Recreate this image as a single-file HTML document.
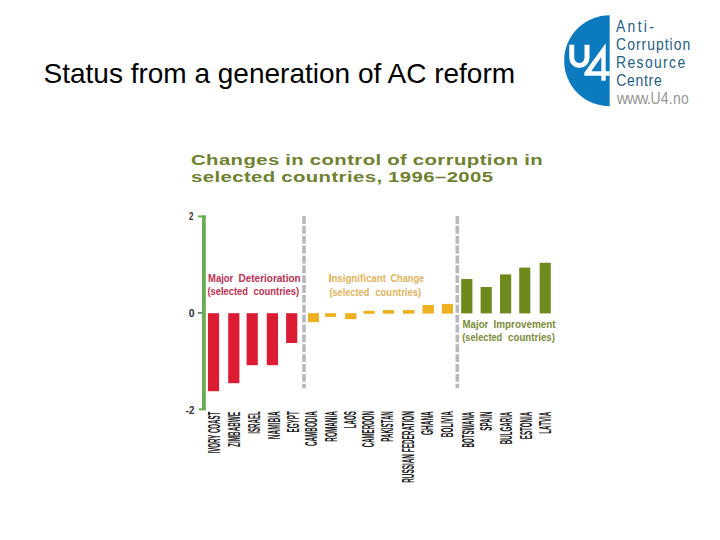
<!DOCTYPE html>
<html><head><meta charset="utf-8">
<style>
html,body{margin:0;padding:0;background:#fff;}
body{width:720px;height:540px;position:relative;overflow:hidden;font-family:"Liberation Sans",sans-serif;}
.abs{position:absolute;white-space:nowrap;}
#title{left:43.5px;top:57.5px;font-size:28px;color:#000;line-height:32px;}
.ct{position:absolute;left:191px;font-size:14.5px;font-weight:bold;color:#6d812e;letter-spacing:0.3px;word-spacing:-0.3px;white-space:nowrap;line-height:16px;transform:scaleX(1.4);transform-origin:0 0;}
</style></head><body>
<div id="title" class="abs">Status from a generation of AC reform</div>

<!-- logo -->
<svg class="abs" style="left:0;top:0" width="720" height="540" viewBox="0 0 720 540">
  <path d="M609.7 15.2 A45.5 45.5 0 0 0 609.7 106.3 Z" fill="#0c7abf"/>
  <path d="M571.75 44.8 V57.8 A7.625 7.625 0 0 0 587 57.8 V44.8" fill="none" stroke="#fff" stroke-width="5"/>
  <path fill="#fff" fill-rule="evenodd" d="M605.7 43.3 L605.7 71.3 L609.7 71.3 L609.7 75.8 L605.7 75.8 L605.7 80.7 L601.3 80.7 L601.3 75.8 L584.3 75.8 L584.3 72.8 Z M601.3 57 L601.3 71.3 L591.3 71.3 Z"/>
</svg>
<svg class="abs" style="left:0;top:0" width="720" height="540" viewBox="0 0 720 540">
<g font-family="Liberation Sans" font-size="16.2">
<text transform="translate(616.0,31.7) scale(0.86,1)" fill="#235e84" textLength="44.1" lengthAdjust="spacing">Anti-</text>
<text transform="translate(616.1,49.9) scale(0.86,1)" fill="#235e84" textLength="86.2" lengthAdjust="spacing">Corruption</text>
<text transform="translate(616.1,68.1) scale(0.86,1)" fill="#235e84" textLength="80.3" lengthAdjust="spacing">Resource</text>
<text transform="translate(616.2,86.4) scale(0.86,1)" fill="#235e84" textLength="52.9" lengthAdjust="spacing">Centre</text>
<text transform="translate(616.7,104.2) scale(0.95,1)" fill="#979797" textLength="36.1" lengthAdjust="spacing">www.</text>
<text transform="translate(650.5,104.2) scale(0.86,1)" fill="#979797" textLength="44.5" lengthAdjust="spacing">U4.no</text>
</g></svg>

<!-- chart title -->
<div class="ct" style="top:152px">Changes in control of corruption in</div>
<div class="ct" style="top:169px">selected countries, 1996–2005</div>

<svg class="abs" style="left:0;top:0" width="720" height="540" viewBox="0 0 720 540">
  <!-- y axis -->
  <rect x="202" y="215.5" width="3.8" height="194.7" fill="#6aad4f"/>
  <rect x="198" y="215.5" width="7.8" height="2" fill="#6aad4f"/>
  <rect x="198.9" y="408.3" width="6.9" height="2" fill="#6aad4f"/>
  <rect x="197.8" y="312.2" width="4.4" height="1.5" fill="#556650"/>
  <!-- dashed separators -->
  <line x1="304" y1="216" x2="304" y2="388.3" stroke="#b8b8bd" stroke-width="3.6" stroke-dasharray="7.9 1.97"/>
  <line x1="457.3" y1="216" x2="457.3" y2="388.3" stroke="#b8b8bd" stroke-width="3.6" stroke-dasharray="7.9 1.97"/>
  <!-- red bars -->
  <g fill="#dc1c32">
    <rect x="207.9" y="313.2" width="11.2" height="78"/>
    <rect x="228.2" y="313.2" width="11.2" height="70"/>
    <rect x="246.6" y="313.2" width="11.2" height="52"/>
    <rect x="266.8" y="313.2" width="11.2" height="52"/>
    <rect x="286.1" y="313.2" width="11.2" height="29.8"/>
  </g>
  <!-- yellow bars -->
  <g fill="#efb020">
    <rect x="308" y="313.2" width="11" height="9"/>
    <rect x="325" y="313.2" width="11" height="3.7"/>
    <rect x="345.2" y="313.2" width="11.2" height="6"/>
    <rect x="363.5" y="310.8" width="11.2" height="3"/>
    <rect x="382.9" y="310.1" width="11.2" height="3.6"/>
    <rect x="403" y="310.1" width="11.4" height="3.6"/>
    <rect x="422.5" y="305" width="11.4" height="8.6"/>
    <rect x="441.9" y="303.9" width="11.1" height="9.7"/>
  </g>
  <!-- green bars -->
  <g fill="#6f8a1c">
    <rect x="461.2" y="279" width="11.2" height="34.4"/>
    <rect x="480.6" y="287" width="11.2" height="26.4"/>
    <rect x="500" y="274.4" width="11.2" height="39"/>
    <rect x="519.2" y="267.6" width="11.1" height="45.8"/>
    <rect x="539.7" y="262.8" width="11.1" height="50.6"/>
  </g>
</svg>
<!-- y labels -->
<svg class="abs" style="left:0;top:0" width="720" height="540" viewBox="0 0 720 540">
<g font-family="Liberation Sans" font-weight="bold" font-size="10.2" fill="#2e2e2e">
<text x="189" y="220" textLength="4.4" lengthAdjust="spacingAndGlyphs">2</text>
<text x="188.7" y="316.7" textLength="5.8" lengthAdjust="spacingAndGlyphs">0</text>
<text x="185.7" y="413.5" textLength="8.6" lengthAdjust="spacingAndGlyphs">-2</text>
</g></svg>

<!-- annotations -->
<svg class="abs" style="left:0;top:0" width="720" height="540" viewBox="0 0 720 540">
<g font-family="Liberation Sans" font-weight="bold" font-size="10">
<text x="208.0" y="281.7" fill="#c02f52" textLength="25.3" lengthAdjust="spacingAndGlyphs">Major</text>
<text x="238.5" y="281.7" fill="#c02f52" textLength="62.1" lengthAdjust="spacingAndGlyphs">Deterioration</text>
<text x="207.5" y="295.4" fill="#c02f52" textLength="40.4" lengthAdjust="spacingAndGlyphs">(se<tspan fill="#d4142e">l</tspan>ected</text>
<text x="253.4" y="295.4" fill="#c02f52" textLength="45.8" lengthAdjust="spacingAndGlyphs">countries)</text>
<text x="328.7" y="281.8" fill="#e2b35c" textLength="57.2" lengthAdjust="spacingAndGlyphs"><tspan fill="#e0a418">I</tspan>nsignificant</text>
<text x="390.5" y="281.8" fill="#e2b35c" textLength="33.6" lengthAdjust="spacingAndGlyphs">Change</text>
<text x="329.4" y="295.6" fill="#e2b35c" textLength="39.9" lengthAdjust="spacingAndGlyphs">(selected</text>
<text x="375.2" y="295.6" fill="#e2b35c" textLength="46.1" lengthAdjust="spacingAndGlyphs">countries)</text>
<text x="462.5" y="327.7" fill="#7a8c38" textLength="25.8" lengthAdjust="spacingAndGlyphs">Major</text>
<text x="493.5" y="327.7" fill="#7a8c38" textLength="62.1" lengthAdjust="spacingAndGlyphs">Improvement</text>
<text x="462.3" y="341.1" fill="#7a8c38" textLength="39.9" lengthAdjust="spacingAndGlyphs">(selected</text>
<text x="508.1" y="341.1" fill="#7a8c38" textLength="46.8" lengthAdjust="spacingAndGlyphs">countries)</text>
</g></svg>
<svg class="abs" style="left:0;top:0" width="720" height="540" viewBox="0 0 720 540">
<g font-family="Liberation Sans" font-weight="bold" font-size="15.8" fill="#1a1a1a">
<text transform="translate(219.7,453.4) rotate(-90)" textLength="41.7" lengthAdjust="spacingAndGlyphs">IVORY COAST</text>
<text transform="translate(240.1,446.9) rotate(-90)" textLength="35.0" lengthAdjust="spacingAndGlyphs">ZIMBABWE</text>
<text transform="translate(260.0,433.7) rotate(-90)" textLength="22.4" lengthAdjust="spacingAndGlyphs">ISRAEL</text>
<text transform="translate(279.7,439.2) rotate(-90)" textLength="27.9" lengthAdjust="spacingAndGlyphs">NAMIBIA</text>
<text transform="translate(299.2,432.5) rotate(-90)" textLength="21.2" lengthAdjust="spacingAndGlyphs">EGYPT</text>
<text transform="translate(316.7,446.1) rotate(-90)" textLength="34.9" lengthAdjust="spacingAndGlyphs">CAMBODIA</text>
<text transform="translate(336.7,441.7) rotate(-90)" textLength="30.5" lengthAdjust="spacingAndGlyphs">ROMANIA</text>
<text transform="translate(355.6,428.3) rotate(-90)" textLength="17.1" lengthAdjust="spacingAndGlyphs">LAOS</text>
<text transform="translate(374.4,447.2) rotate(-90)" textLength="36.0" lengthAdjust="spacingAndGlyphs">CAMEROON</text>
<text transform="translate(393.3,441.7) rotate(-90)" textLength="30.5" lengthAdjust="spacingAndGlyphs">PAKISTAN</text>
<text transform="translate(414.4,482.8) rotate(-90)" textLength="71.6" lengthAdjust="spacingAndGlyphs">RUSSIAN FEDERATION</text>
<text transform="translate(433.3,435.0) rotate(-90)" textLength="23.8" lengthAdjust="spacingAndGlyphs">GHANA</text>
<text transform="translate(453.3,437.2) rotate(-90)" textLength="26.0" lengthAdjust="spacingAndGlyphs">BOLIVIA</text>
<text transform="translate(473.7,447.5) rotate(-90)" textLength="35.8" lengthAdjust="spacingAndGlyphs">BOTSWANA</text>
<text transform="translate(491.7,430.8) rotate(-90)" textLength="19.1" lengthAdjust="spacingAndGlyphs">SPAIN</text>
<text transform="translate(512.0,444.2) rotate(-90)" textLength="32.5" lengthAdjust="spacingAndGlyphs">BULGARIA</text>
<text transform="translate(531.7,439.2) rotate(-90)" textLength="27.5" lengthAdjust="spacingAndGlyphs">ESTONIA</text>
<text transform="translate(550.8,433.7) rotate(-90)" textLength="22.0" lengthAdjust="spacingAndGlyphs">LATVIA</text>
</g></svg>
</body></html>
